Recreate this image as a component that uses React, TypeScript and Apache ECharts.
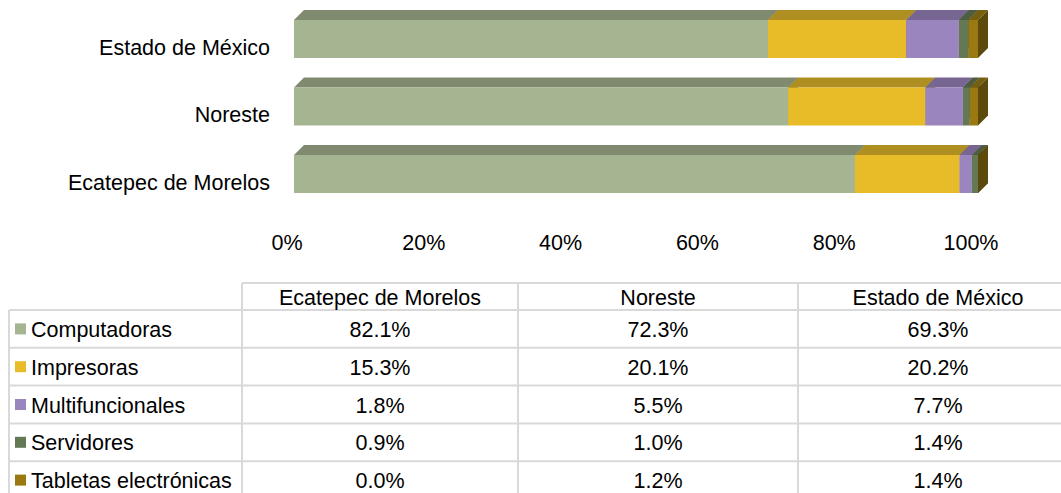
import React, { useEffect, useRef } from "react";
import * as echarts from "echarts";

const categories = ["Ecatepec de Morelos", "Noreste", "Estado de México"];
const seriesNames = ["Computadoras", "Impresoras", "Multifuncionales", "Servidores", "Tabletas electrónicas"];
const computadoras = [82.1, 72.3, 69.3];
const impresoras = [15.3, 20.1, 20.2];
const multifuncionales = [1.8, 5.5, 7.7];
const servidores = [0.9, 1.0, 1.4];
const tabletas = [0.0, 1.2, 1.4];
const xTicks = [0, 20, 40, 60, 80, 100];

const frontColors = ["#A5B592", "#E8BC29", "#9B85BE", "#647853", "#9A7A10"];
const topColors = ["#7F8A6F", "#B08F22", "#776592", "#4E5D40", "#76600F"];
const sideColors = ["#5F6A52", "#7F6614", "#57486E", "#3D4A32", "#5C4A0C"];

const FONT = '"Liberation Sans", Arial, sans-serif';

export default function App() {
  const ref = useRef<HTMLDivElement>(null);
  useEffect(() => {
    document.body.style.margin = "0";
    if (!ref.current) return;
    const chart = echarts.init(ref.current, undefined, { renderer: "svg" });
    const values = [computadoras, impresoras, multifuncionales, servidores, tabletas];
    const totals = categories.map((_, c) => values.reduce((s, arr) => s + arr[c], 0));
    const cum = categories.map(() => 0);
    const series = values.map((arr, k) => {
      const data = categories.map((_, c) => {
        const start = cum[c];
        const end = start + (arr[c] / totals[c]) * 100;
        cum[c] = end;
        return [start, end, c];
      });
      return {
        type: "custom",
        name: seriesNames[k],
        data,
        encode: { x: [0, 1], y: 2 },
        renderItem: (params: any, api: any) => {
          const start = api.value(0);
          const end = api.value(1);
          const cat = api.value(2);
          const p0 = api.coord([start, cat]);
          const p1 = api.coord([end, cat]);
          const bandH = api.size([0, 1])[1];
          const h = bandH * 0.563;
          const yTop = p0[1] - h / 2;
          const yBot = p0[1] + h / 2;
          const d = 10;
          const x0 = p0[0];
          const x1 = p1[0];
          return {
            type: "group",
            children: [
              {
                type: "polygon",
                shape: { points: [[x1, yTop], [x1 + d, yTop - d], [x1 + d, yBot - d], [x1, yBot]] },
                style: { fill: sideColors[k] },
              },
              {
                type: "polygon",
                shape: { points: [[x0, yTop], [x0 + d, yTop - d], [x1 + d, yTop - d], [x1, yTop]] },
                style: { fill: topColors[k] },
              },
              {
                type: "rect",
                shape: { x: x0, y: yTop, width: Math.max(0, x1 - x0), height: h },
                style: { fill: frontColors[k] },
              },
            ],
          };
        },
      };
    });

    // Table
    const graphics: any[] = [];
    const lineColor = "#D9D9D9";
    const colX = [9, 242, 518, 798, 1078];
    const headerTop = 283;
    const rowTop0 = 310;
    const rowH = 37.8;
    const nRows = seriesNames.length;
    const tableBottom = rowTop0 + rowH * nRows;
    const hline = (x1: number, x2: number, y: number) =>
      graphics.push({ type: "line", shape: { x1, y1: y, x2, y2: y }, style: { stroke: lineColor, lineWidth: 2 } });
    const vline = (x: number, y1: number, y2: number) =>
      graphics.push({ type: "line", shape: { x1: x, y1, x2: x, y2 }, style: { stroke: lineColor, lineWidth: 2 } });
    hline(colX[1], colX[4], headerTop);
    for (let r = 0; r <= nRows; r++) hline(colX[0], colX[4], rowTop0 + r * rowH);
    vline(colX[0], rowTop0, tableBottom);
    for (let c = 1; c < colX.length; c++) vline(colX[c], headerTop, tableBottom);
    const text = (t: string, x: number, y: number, align: string) =>
      graphics.push({
        type: "text",
        x,
        y,
        style: {
          text: t,
          fill: "#000",
          font: `21.5px ${FONT}`,
          textAlign: align,
          textVerticalAlign: "middle",
        },
      });
    categories.forEach((cat, c) => {
      text(cat, (colX[c + 1] + colX[c + 2]) / 2, (headerTop + rowTop0) / 2 + 1, "center");
    });
    seriesNames.forEach((name, r) => {
      const cy = rowTop0 + r * rowH + rowH / 2;
      graphics.push({
        type: "rect",
        shape: { x: 15, y: cy - 5.5, width: 11, height: 11 },
        style: { fill: frontColors[r] },
      });
      text(name, 31, cy + 1, "left");
      categories.forEach((_, c) => {
        text(values[r][c].toFixed(1) + "%", (colX[c + 1] + colX[c + 2]) / 2, cy + 1, "center");
      });
    });

    chart.setOption({
      animation: false,
      grid: { left: 294, width: 684, top: 5.25, height: 202.5 },
      xAxis: {
        type: "value",
        min: 0,
        max: 100,
        interval: 20,
        axisLine: { show: false },
        axisTick: { show: false },
        splitLine: { show: false },
        axisLabel: {
          formatter: (v: number) => (xTicks.includes(v) ? `${v}%` : ""),
          fontFamily: FONT,
          fontSize: 21.5,
          color: "#000",
          margin: 24,
          padding: [0, 14, 0, 0],
        },
      },
      yAxis: {
        type: "category",
        data: categories,
        axisLine: { show: false },
        axisTick: { show: false },
        splitLine: { show: false },
        axisLabel: {
          margin: 24,
          formatter: (v: string) => `{a|${v}}`,
          rich: {
            a: {
              fontFamily: FONT,
              fontSize: 21.5,
              color: "#000",
              padding: [17, 0, 0, 0],
            },
          },
        },
      },
      series,
      graphic: { elements: graphics },
    });
    return () => chart.dispose();
  }, []);
  return <div ref={ref} style={{ width: 1061, height: 493 }} />;
}
